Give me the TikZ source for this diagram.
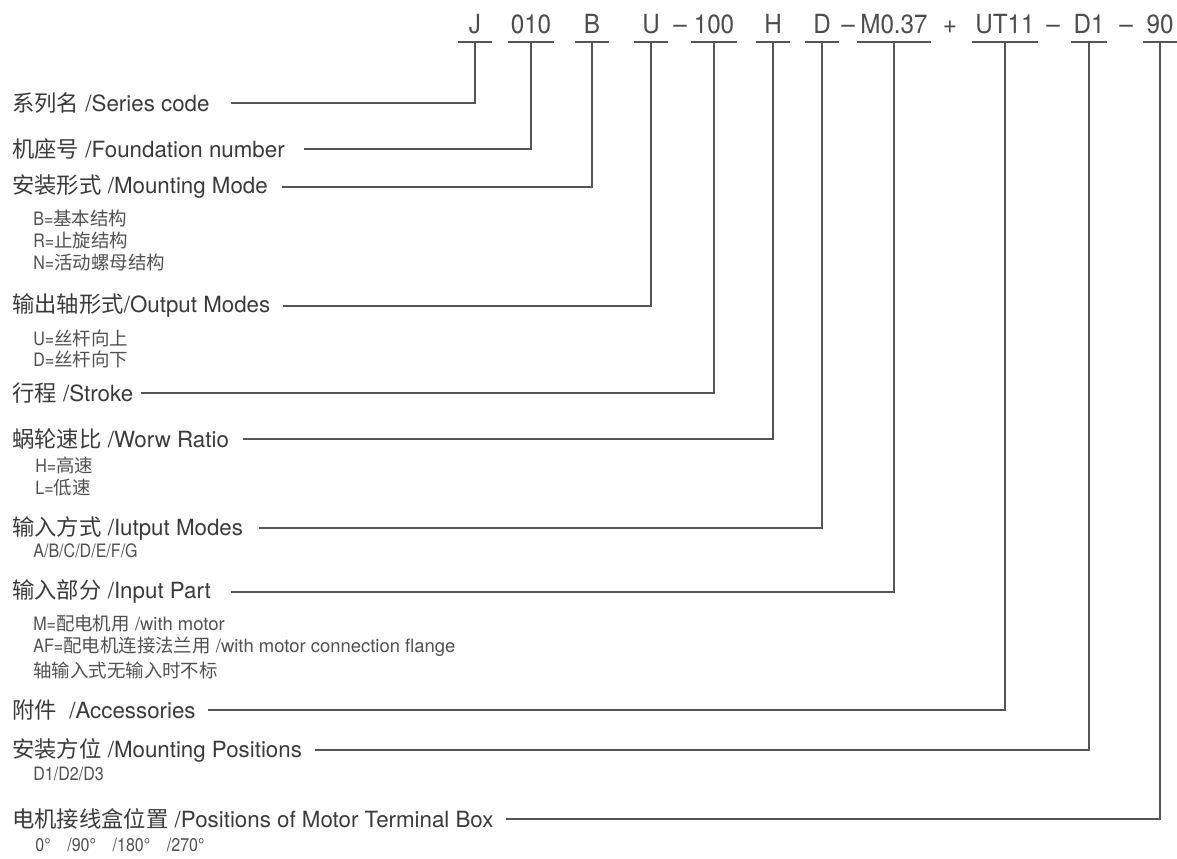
\documentclass[tikz,border=0pt]{standalone}
\usepackage{fontspec}
\setmainfont{TeX Gyre Heros}
\newfontfamily\cjk{Noto Sans CJK SC}
\newfontfamily\codefont[FakeStretch=0.92]{TeX Gyre Heros}
\newfontfamily\narrowfont[FakeStretch=0.87]{TeX Gyre Heros}
\usepackage{tikz}
\usetikzlibrary{positioning}
\definecolor{inkgray}{HTML}{3A3A3A}
\definecolor{subgray}{HTML}{505050}
\definecolor{linegray}{HTML}{555555}

\begin{document}
\begin{tikzpicture}[x=0.02cm, y=-0.02cm, inkgray,
    code/.style={font=\codefont\fontsize{15}{17}\selectfont, anchor=south, text depth=0pt,
      inner xsep=1.5pt, inner ysep=4.6pt, minimum width=0.68cm, text=black!70},
    joint/.style={font=\codefont\fontsize{15}{17}\selectfont, anchor=south, text depth=0pt,
      inner xsep=0pt, inner ysep=4.6pt, text=black!70},
    lbl/.style={font=\fontsize{12.7}{14}\selectfont, anchor=west, inner sep=0pt},
    sub/.style={font=\fontsize{10.5}{12}\selectfont, anchor=west, inner sep=0pt, subgray},
    conn/.style={draw=linegray, line width=0.7pt},
    uline/.style={draw=linegray, line width=0.7pt}]
  \useasboundingbox (0,0) rectangle (1177,859);
  % ---- the type code ----
  \node[code] (cJ)    at (475,42)  {J};
  \node[code] (cFnd)  at (531,42)  {010};
  \node[code] (cMnt)  at (592,42)  {B};
  \node[code] (cOut)  at (651,42)  {U};
  \node[joint] (j1)   at (680,42)  {–};
  \node[code] (cStr)  at (714,42)  {100};
  \node[code] (cRat)  at (773,42)  {H};
  \node[code] (cIn)   at (822,42)  {D};
  \node[joint] (j2)   at (848,42)  {–};
  \node[code] (cPart) at (894,42)  {M0.37};
  \node[joint] (j3)   at (950,42)  {+};
  \node[code] (cAcc)  at (1005,42) {UT11};
  \node[joint] (j4)   at (1053,42) {–};
  \node[code] (cPos)  at (1089,42) {D1};
  \node[joint] (j5)   at (1126,42) {–};
  \node[code] (cBox)  at (1160,42) {90};
  \draw[uline] (cJ.south west) -- (cJ.south east);
  \draw[uline] (cFnd.south west) -- (cFnd.south east);
  \draw[uline] (cMnt.south west) -- (cMnt.south east);
  \draw[uline] (cOut.south west) -- (cOut.south east);
  \draw[uline] (cStr.south west) -- (cStr.south east);
  \draw[uline] (cRat.south west) -- (cRat.south east);
  \draw[uline] (cIn.south west) -- (cIn.south east);
  \draw[uline] (cPart.south west) -- (cPart.south east);
  \draw[uline] (cAcc.south west) -- (cAcc.south east);
  \draw[uline] (cPos.south west) -- (cPos.south east);
  \draw[uline] (cBox.south west) -- (cBox.south east);
  % ---- the labels on the left ----
  \node[lbl] (series) at (12,103) {{\cjk 系列名} /Series code};
  \node[lbl] (fnd)    at (12,149) {{\cjk 机座号} /Foundation number};
  \node[lbl] (mnt)    at (12,187) {{\cjk 安装形式} /Mounting Mode};
  \node[sub] (mntB)   at (33,218) {{\narrowfont B=}{\cjk 基本结构}};
  \node[sub] (mntR)   at (33,240) {{\narrowfont R=}{\cjk 止旋结构}};
  \node[sub] (mntN)   at (33,262) {{\narrowfont N=}{\cjk 活动螺母结构}};
  \node[lbl] (out)    at (12,306) {{\cjk 输出轴形式}/Output Modes};
  \node[sub] (outU)   at (33,338) {{\narrowfont U=}{\cjk 丝杆向上}};
  \node[sub] (outD)   at (33,359) {{\narrowfont D=}{\cjk 丝杆向下}};
  \node[lbl] (str)    at (12,393) {{\cjk 行程} /Stroke};
  \node[lbl] (rat)    at (12,439) {{\cjk 蜗轮速比} /Worw Ratio};
  \node[sub] (ratH)   at (35,465) {{\narrowfont H=}{\cjk 高速}};
  \node[sub] (ratL)   at (35,488) {{\narrowfont L=}{\cjk 低速}};
  \node[lbl] (inm)    at (12,528) {{\cjk 输入方式} /Iutput Modes};
  \node[sub] (inmA)   at (33,551) {\narrowfont A/B/C/D/E/F/G};
  \node[lbl] (part)   at (12,592) {{\cjk 输入部分} /Input Part};
  \node[sub] (partM)  at (33,624) {{\narrowfont M=}{\cjk 配电机用} /with motor};
  \node[sub] (partAF) at (33,647) {{\narrowfont AF=}{\cjk 配电机连接法兰用} /with motor connection flange};
  \node[sub] (partS)  at (33,670) {\cjk 轴输入式无输入时不标};
  \node[lbl] (acc)    at (12,710) {{\cjk 附件}\ \ /Accessories};
  \node[lbl] (pos)    at (12,750) {{\cjk 安装方位} /Mounting Positions};
  \node[sub] (posD)   at (33,774) {\narrowfont D1/D2/D3};
  \node[lbl] (box)    at (12,819) {{\cjk 电机接线盒位置} /Positions of Motor Terminal Box};
  \node[sub] (boxA)   at (35,845) {\narrowfont 0°\hspace{0.9em}/90°\hspace{0.9em}/180°\hspace{0.9em}/270°};
  % ---- connectors ----
  \draw[conn] ([xshift=12pt]series.east) -| (cJ.south);
  \draw[conn] ([xshift=11pt]fnd.east) -| (cFnd.south);
  \draw[conn] ([xshift=8pt]mnt.east) -| (cMnt.south);
  \draw[conn] ([xshift=7pt]out.east) -| (cOut.south);
  \draw[conn] ([xshift=4pt]str.east) -| (cStr.south);
  \draw[conn] ([xshift=8pt]rat.east) -| (cRat.south);
  \draw[conn] ([xshift=9pt]inm.east) -| (cIn.south);
  \draw[conn] ([xshift=11pt]part.east) -| (cPart.south);
  \draw[conn] ([xshift=7pt]acc.east) -| (cAcc.south);
  \draw[conn] ([xshift=7pt]pos.east) -| (cPos.south);
  \draw[conn] ([xshift=7pt]box.east) -| (cBox.south);
\end{tikzpicture}
\end{document}
